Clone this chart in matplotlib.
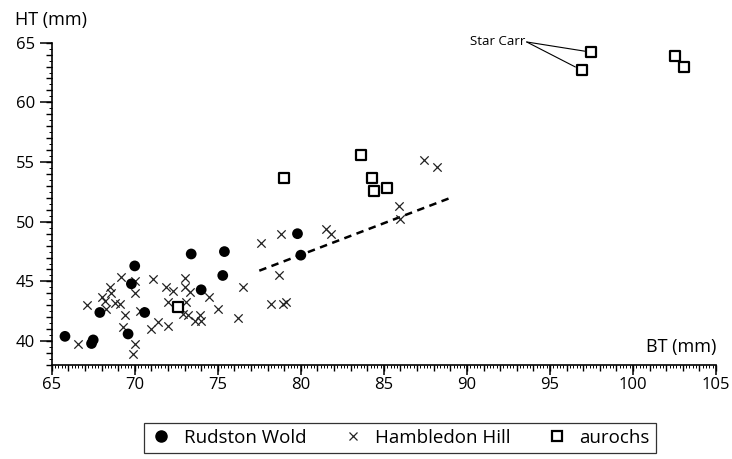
import numpy as np
import matplotlib
matplotlib.use('Agg')
import matplotlib.pyplot as plt
from matplotlib.ticker import MultipleLocator
from matplotlib.lines import Line2D

plt.rcParams['font.family'] = ['Open Sans', 'DejaVu Sans']

# Rudston Wold (BT, HT)
rw_bt = [65.8, 67.5, 67.4, 67.9, 69.6, 70.0, 69.8, 70.6, 73.4, 74.0, 75.4, 75.3, 79.8, 80.0]
rw_ht = [40.4, 40.1, 39.8, 42.4, 40.6, 46.3, 44.8, 42.4, 47.3, 44.3, 47.5, 45.5, 49.0, 47.2]

# Hambledon Hill (BT, HT)
hh_bt = [66.6, 67.1, 68.0, 68.5, 68.6, 68.2, 68.8, 69.1, 68.3, 69.2, 69.4, 69.3,
         70.0, 70.0, 70.3, 70.0, 69.9, 71.1, 71.0, 71.4, 71.9, 72.0, 72.0, 72.3,
         73.0, 73.0, 73.3, 73.1, 72.9, 73.2, 73.6, 73.9, 74.0, 74.5, 75.0, 76.2,
         76.5, 77.6, 78.2, 78.7, 78.9, 79.1, 78.8, 81.5, 81.8, 85.9, 86.0, 87.4, 88.2]
hh_ht = [39.8, 43.0, 43.7, 44.5, 44.0, 43.4, 43.2, 43.1, 42.7, 45.4, 42.2, 41.2,
         45.0, 44.0, 42.5, 39.8, 38.9, 45.2, 41.0, 41.6, 44.5, 43.3, 41.3, 44.2,
         45.3, 44.5, 44.1, 43.3, 42.3, 42.2, 41.7, 42.2, 41.7, 43.7, 42.7, 41.9,
         44.5, 48.2, 43.1, 45.5, 43.1, 43.3, 49.0, 49.4, 49.0, 51.3, 50.2, 55.2, 54.6]

# aurochs (BT, HT)
au_bt = [72.6, 79.0, 83.6, 84.3, 84.4, 85.2, 97.5, 96.9, 102.5, 103.1]
au_ht = [42.9, 53.7, 55.6, 53.7, 52.6, 52.8, 64.2, 62.7, 63.9, 63.0]

# Star Carr points (index into aurochs)
star_carr = [6, 7]

# dashed trend line
trend_bt = [77.5, 89.1]
trend_ht = [45.9, 52.05]

fig = plt.figure(figsize=(7.32, 4.59), dpi=100)
ax = fig.add_axes([0.0706, 0.2048, 0.9076, 0.7022])

ax.plot(trend_bt, trend_ht, color='black', lw=1.8, linestyle=(0, (3, 2.2)), zorder=2)
ax.scatter(hh_bt, hh_ht, marker='x', s=36, color='#222222', linewidths=0.9, zorder=3)
ax.scatter(rw_bt, rw_ht, marker='o', s=60, color='black', edgecolors='none', zorder=4)
ax.scatter(au_bt, au_ht, marker='s', s=44, facecolors='white', edgecolors='black',
           linewidths=1.6, zorder=5, clip_on=False)

# Star Carr label and leader lines
ax.text(93.5, 65.06, 'Star Carr', ha='right', va='center', fontsize=9.5)
for i in star_carr:
    ax.annotate('', xy=(au_bt[i], au_ht[i]), xytext=(93.6, 65.06),
                arrowprops=dict(arrowstyle='-', lw=0.8, color='black', shrinkA=0, shrinkB=5),
                annotation_clip=False)

ax.set_xlim(65, 105)
ax.set_ylim(38, 65)
for s in ['top', 'right']:
    ax.spines[s].set_visible(False)
for s in ['left', 'bottom']:
    ax.spines[s].set_linewidth(1.2)

ax.xaxis.set_major_locator(MultipleLocator(5))
ax.xaxis.set_minor_locator(MultipleLocator(0.2))
ax.yaxis.set_major_locator(MultipleLocator(5))
ax.yaxis.set_minor_locator(MultipleLocator(0.5))
ax.tick_params(axis='x', which='major', direction='out', length=7, width=1.1, pad=2, labelsize=12)
ax.tick_params(axis='y', which='major', direction='out', length=9, width=1.1, pad=3, labelsize=12)
ax.tick_params(which='minor', direction='out', length=2, width=0.7)

# medium ticks every 1 mm
secx = ax.secondary_xaxis('bottom')
secx.set_xticks(np.arange(65, 105.1, 1))
secx.tick_params(length=4, width=1.0, labelbottom=False)
secx.spines['bottom'].set_visible(False)
secy = ax.secondary_yaxis('left')
secy.set_yticks(np.arange(38, 65.1, 1))
secy.tick_params(length=4, width=1.0, labelleft=False)
secy.spines['left'].set_visible(False)

fig.text(15 / 732, 1 - 20 / 459, 'HT (mm)', ha='left', va='center', fontsize=13)
ax.text(1.0, 0.028, 'BT (mm)', transform=ax.transAxes, ha='right', va='bottom', fontsize=13)

handles = [
    Line2D([], [], marker='o', linestyle='none', color='black', markersize=8),
    Line2D([], [], marker='x', linestyle='none', color='#222222', markersize=6, markeredgewidth=0.9),
    Line2D([], [], marker='s', linestyle='none', markerfacecolor='white',
           markeredgecolor='black', markersize=6.5, markeredgewidth=1.6),
]
labels = ['Rudston Wold', 'Hambledon Hill', 'aurochs']
leg = fig.legend(handles, labels, loc='center', ncol=3, mode='expand',
                 bbox_to_anchor=(135 / 732, 3 / 459, 530 / 732, 36 / 459),
                 bbox_transform=fig.transFigure, frameon=True, fancybox=False,
                 fontsize=13.5, handletextpad=0.6, borderpad=0.3, handlelength=1.2)
leg.get_frame().set_edgecolor('black')
leg.get_frame().set_linewidth(0.9)

fig.savefig('out.png', dpi=100)
